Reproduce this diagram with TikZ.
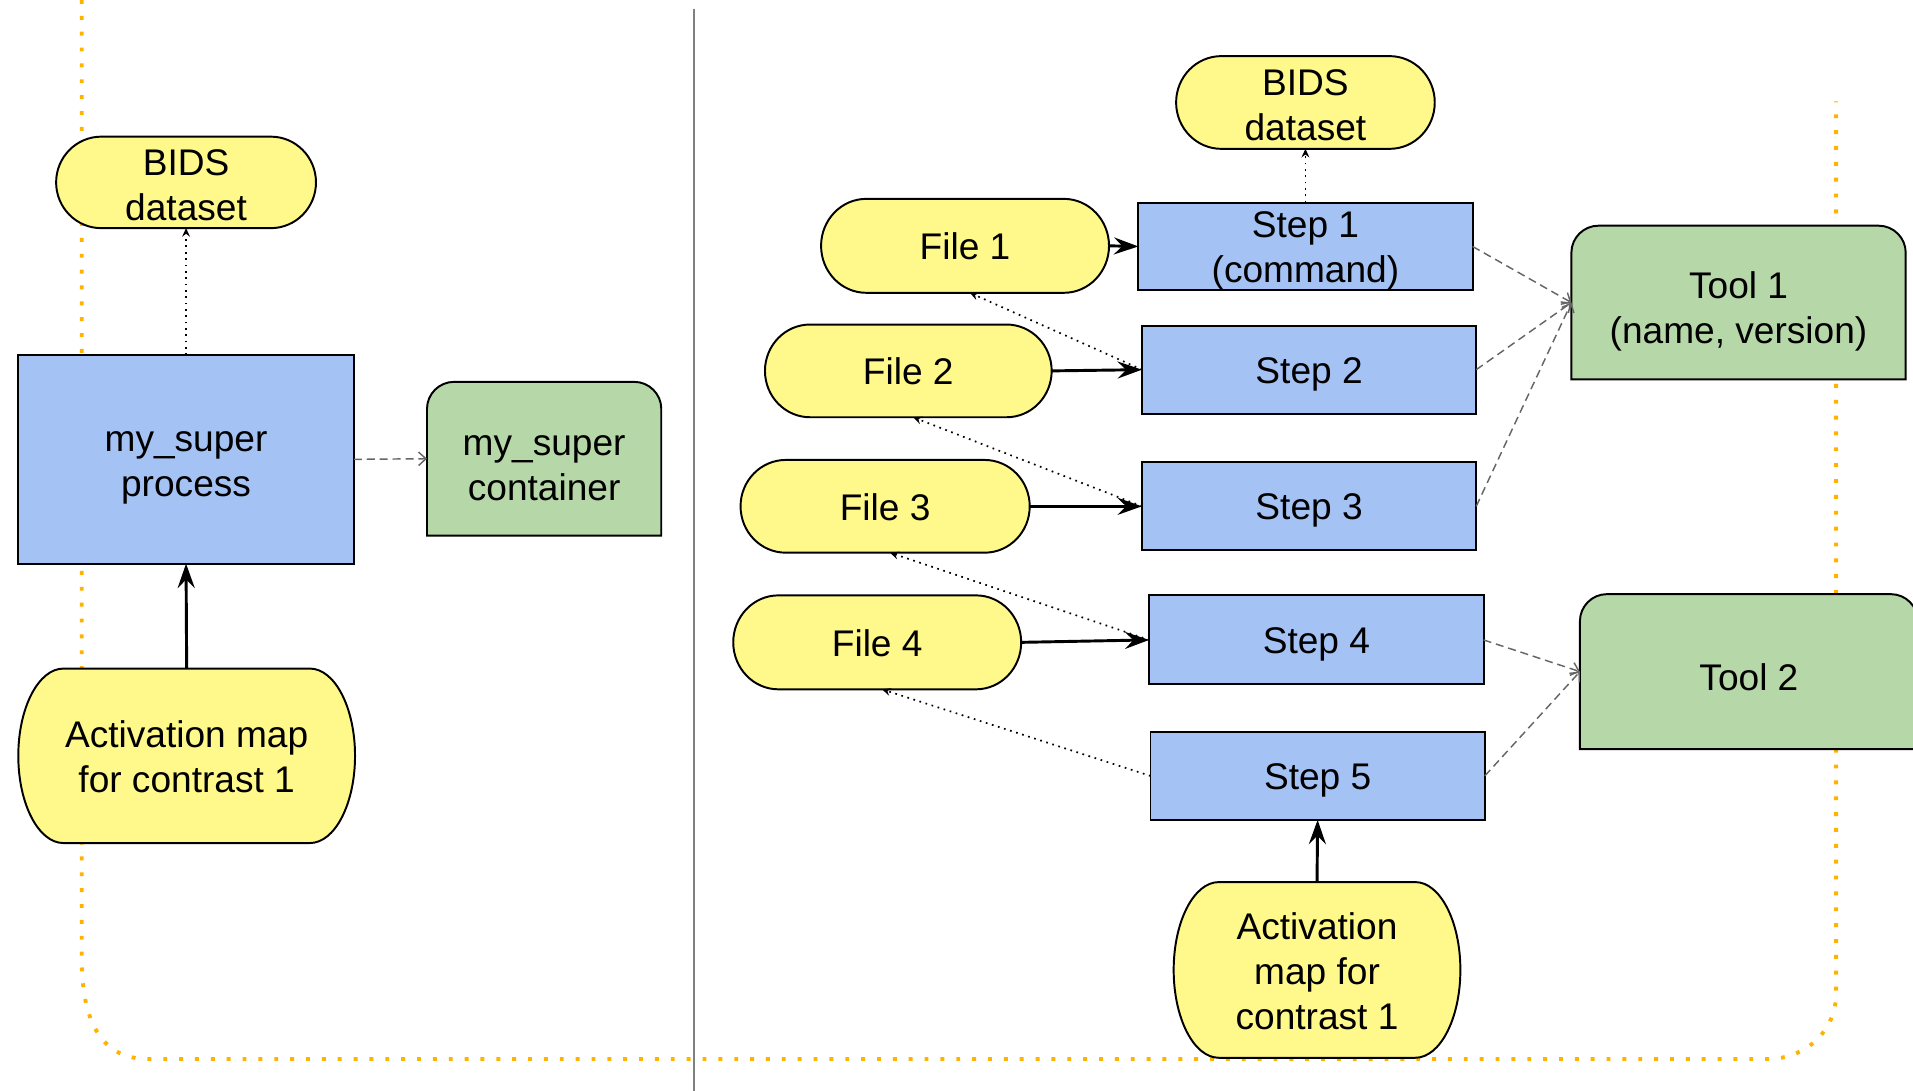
\documentclass[tikz,border=0pt]{standalone}
\usepackage{fontspec}
\setmainfont{Liberation Sans}
\usetikzlibrary{arrows.meta}
\definecolor{yfill}{HTML}{FFF98C}
\definecolor{bfill}{HTML}{A4C2F4}
\definecolor{gfill}{HTML}{B6D7A8}
\definecolor{orangeline}{HTML}{FFB300}
\definecolor{dashgray}{HTML}{666666}
\definecolor{sepgray}{HTML}{808080}

\tikzset{
  basetxt/.style={inner sep=0pt, outer sep=0pt, align=center, font=\fontsize{15.2}{18.3}\selectfont},
  shapenode/.style={inner sep=0pt, outer sep=0pt},
  yshape/.style={draw=black, line width=0.8pt, fill=yfill},
  gshape/.style={draw=black, line width=0.8pt, fill=gfill},
  bluebox/.style={shapenode, draw=black, line width=0.8pt, fill=bfill},
  thickarrow/.style={line width=1.2pt, -{Stealth[length=10pt,width=7pt,inset=3.5pt]}},
  dotarrow/.style={line width=0.7pt, dash pattern=on 0.7pt off 1.9pt, -{Stealth[length=3.5pt,width=3.2pt,inset=1.2pt]}},
  dasharrow/.style={draw=dashgray, line width=0.6pt, dash pattern=on 3.3pt off 2pt, -{Straight Barb[length=3pt,width=5.5pt]}},
  borderline/.style={draw=orangeline, line width=1.6pt, dash pattern=on 1.6pt off 4.9pt},
}

% box node covering L,T,R,B (display px, 1px = 0.5pt) plus its text, shifted down by dy
\newcommand\boxnode[8]{% style, name, L, T, R, B, dy, text
  \pgfmathsetmacro\zzCX{(#3+#5)/2}%
  \pgfmathsetmacro\zzCY{(#4+#6)/2}%
  \pgfmathsetmacro\zzTY{(#4+#6)/2+#7}%
  \pgfmathsetmacro\zzW{(#5-#3)*0.5}%
  \pgfmathsetmacro\zzH{(#6-#4)*0.5}%
  \node[#1, minimum width=\zzW pt, minimum height=\zzH pt] (#2) at (\zzCX,\zzCY) {};
  \node[basetxt] (#2-text) at (\zzCX,\zzTY) {#8};
}
% yellow pill: name, L, T, R, B, dy, text
\newcommand\ynode[7]{%
  \pgfmathsetmacro\zzCY{(#3+#5)/2}%
  \pgfmathsetmacro\zzRY{(#5-#3)/2}%
  \pgfmathsetmacro\zzA{#2+37}%
  \pgfmathsetmacro\zzB{#4-37}%
  \pgfmathsetmacro\zzC{#2+16.6}%
  \pgfmathsetmacro\zzD{#4-16.6}%
  \pgfmathsetmacro\zzE{\zzCY-0.5523*\zzRY}%
  \pgfmathsetmacro\zzF{\zzCY+0.5523*\zzRY}%
  \filldraw[yshape] (\zzA,#3) -- (\zzB,#3) .. controls (\zzD,#3) and (#4,\zzE) .. (#4,\zzCY)
     .. controls (#4,\zzF) and (\zzD,#5) .. (\zzB,#5) -- (\zzA,#5)
     .. controls (\zzC,#5) and (#2,\zzF) .. (#2,\zzCY)
     .. controls (#2,\zzE) and (\zzC,#3) .. cycle;
  \boxnode{shapenode}{#1}{#2}{#3}{#4}{#5}{#6}{#7}
}
% green box with rounded top corners: name, L, T, R, B, dy, text
\newcommand\gnode[7]{%
  \filldraw[gshape] (#2,#5) -- (#2,{#3+22}) .. controls (#2,{#3+10}) and ({#2+10},#3) .. ({#2+22},#3)
     -- ({#4-22},#3) .. controls ({#4-10},#3) and (#4,{#3+10}) .. (#4,{#3+22}) -- (#4,#5) -- cycle;
  \boxnode{shapenode}{#1}{#2}{#3}{#4}{#5}{#6}{#7}
}

\begin{document}
\begin{tikzpicture}[x=0.5pt,y=-0.5pt]
\useasboundingbox (0,0) rectangle (1568,894);
\clip (0,0) rectangle (1568,894);

% orange dotted frame
\draw[borderline] (67,0) -- (67,786) .. controls (67,840) and (85,868) .. (121,868)
   -- (1449,868) .. controls (1480,868) and (1505,845) .. (1505,814) -- (1505,83);

% separator
\draw[sepgray, line width=0.8pt] (569,7) -- (569,894);

% ---------- left part ----------
\ynode{bidsA}{46}{112}{259}{187}{2.5}{BIDS\\dataset}
\boxnode{bluebox}{proc}{15}{291}{290}{462}{7}{my\_super\\process}
\gnode{cont}{350}{313}{542}{439}{7.5}{my\_super\\container}
\ynode{actA}{15}{548}{291}{691}{1}{Activation map\\for contrast 1}

\draw[dotarrow] (proc.north) -- (bidsA.south);
\draw[dasharrow] (proc.east) -- (cont.west);
\draw[thickarrow] (actA.north) -- (proc.south);

% ---------- right part ----------
\ynode{bidsB}{964}{46}{1176}{122}{2.5}{BIDS\\dataset}
\ynode{fileA}{673}{163}{909}{240}{0.5}{File 1}
\ynode{fileB}{627}{266}{862}{342}{0.5}{File 2}
\ynode{fileC}{607}{377}{844}{453}{0.5}{File 3}
\ynode{fileD}{601}{488}{837}{565}{0.5}{File 4}
\ynode{actB}{962}{723}{1197}{867}{1}{Activation\\map for\\contrast 1}

\boxnode{bluebox}{stepA}{933}{166}{1207}{238}{3.5}{Step 1\\(command)}
\boxnode{bluebox}{stepB}{936}{267}{1210}{339}{3.5}{Step 2}
\boxnode{bluebox}{stepC}{936}{379}{1210}{451}{3.5}{Step 3}
\boxnode{bluebox}{stepD}{942}{488}{1216}{561}{3.5}{Step 4}
\boxnode{bluebox}{stepE}{943}{600}{1217}{672}{3.5}{Step 5}

\gnode{toolA}{1288}{185}{1562}{311}{7.5}{Tool 1\\(name, version)}
\gnode{toolB}{1295}{487}{1572}{614}{5}{Tool 2}

\draw[dotarrow] (stepA.north) -- (bidsB.south);

\draw[thickarrow] (fileA.east) -- (stepA.west);
\draw[thickarrow] (fileB.east) -- (stepB.west);
\draw[thickarrow] (fileC.east) -- (stepC.west);
\draw[thickarrow] (fileD.east) -- (stepD.west);
\draw[thickarrow] (actB.north) -- (stepE.south);

\draw[dotarrow] (stepB.west) -- ([xshift=2pt]fileA.south);
\draw[dotarrow] (stepC.west) -- ([xshift=2pt]fileB.south);
\draw[dotarrow] (stepD.west) -- ([xshift=2pt]fileC.south);
\draw[dotarrow] (stepE.west) -- ([xshift=2pt]fileD.south);

\draw[dasharrow] (stepA.east) -- (toolA.west);
\draw[dasharrow] (stepB.east) -- (toolA.west);
\draw[dasharrow] (stepC.east) -- (toolA.west);
\draw[dasharrow] (stepD.east) -- (toolB.west);
\draw[dasharrow] (stepE.east) -- (toolB.west);
\end{tikzpicture}
\end{document}
